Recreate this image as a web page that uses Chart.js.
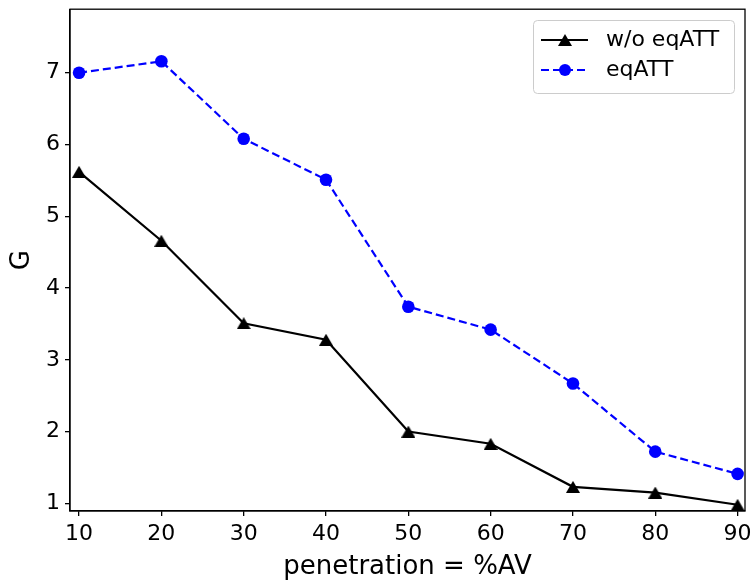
<!DOCTYPE html>
<html>
<head>
<meta charset="utf-8">
<script src="https://cdn.jsdelivr.net/npm/chart.js@4/dist/chart.umd.min.js"></script>
<style>
  html, body { margin: 0; padding: 0; background: #fff; }
  #wrap { width: 755px; height: 584px; }
</style>
</head>
<body>
<div id="wrap"><canvas id="grafico" width="755" height="584"></canvas></div>
<script>
// dados
const penetration = [10, 20, 30, 40, 50, 60, 70, 80, 90];
const woEqATT = [5.62, 4.66, 3.51, 3.28, 2.00, 1.83, 1.23, 1.15, 0.98];
const eqATT = [7.00, 7.16, 6.08, 5.51, 3.74, 3.42, 2.67, 1.72, 1.41];
const xTicks = [10, 20, 30, 40, 50, 60, 70, 80, 90];
const yTicks = [1, 2, 3, 4, 5, 6, 7];
const labels = ["w/o eqATT", "eqATT"];

const FONT = "'DejaVu Sans', sans-serif";

// triangulo no estilo do matplotlib (centro da caixa)
function triangulo(w, h, cor) {
  const c = document.createElement("canvas");
  c.width = w; c.height = h;
  const g = c.getContext("2d");
  g.fillStyle = cor;
  g.beginPath();
  g.moveTo(w / 2, 0);
  g.lineTo(w, h);
  g.lineTo(0, h);
  g.closePath();
  g.fill();
  return c;
}
const tri = triangulo(14, 12, "#000");

// moldura + legenda dentro do grafico
const extras = {
  id: "extras",
  afterDraw(chart) {
    const { ctx, chartArea: a } = chart;
    ctx.save();
    ctx.strokeStyle = "#000";
    ctx.lineWidth = 1.3;
    ctx.strokeRect(a.left, a.top, a.right - a.left, a.bottom - a.top);

    // caixa da legenda
    const bx = 533.5, by = 20.5, bw = 201, bh = 73;
    ctx.beginPath();
    ctx.roundRect(bx, by, bw, bh, 4);
    ctx.fillStyle = "rgba(255,255,255,0.8)";
    ctx.fill();
    ctx.strokeStyle = "#cccccc";
    ctx.lineWidth = 1;
    ctx.stroke();

    const rows = [40, 70];
    // linha preta
    ctx.strokeStyle = "#000";
    ctx.lineWidth = 2.2;
    ctx.setLineDash([]);
    ctx.beginPath();
    ctx.moveTo(541, rows[0]); ctx.lineTo(588, rows[0]);
    ctx.stroke();
    ctx.drawImage(tri, 565 - 7, rows[0] - 6);
    // linha azul tracejada
    ctx.strokeStyle = "#0000ff";
    ctx.setLineDash([8, 4]);
    ctx.beginPath();
    ctx.moveTo(541, rows[1]); ctx.lineTo(588, rows[1]);
    ctx.stroke();
    ctx.setLineDash([]);
    ctx.fillStyle = "#0000ff";
    ctx.beginPath();
    ctx.arc(565, rows[1], 6, 0, Math.PI * 2);
    ctx.fill();

    ctx.fillStyle = "#000";
    ctx.font = "22px " + FONT;
    ctx.textBaseline = "middle";
    ctx.textAlign = "left";
    ctx.fillText(labels[0], 606, rows[0]);
    ctx.fillText(labels[1], 606, rows[1]);
    ctx.restore();
  }
};

new Chart(document.getElementById("grafico").getContext("2d"), {
  type: "line",
  data: {
    datasets: [
      {
        label: labels[0],
        data: penetration.map((x, i) => ({ x, y: woEqATT[i] })),
        borderColor: "#000",
        backgroundColor: "#000",
        borderWidth: 2.2,
        pointStyle: tri,
        pointRadius: 7,
        pointHoverRadius: 7,
        clip: false
      },
      {
        label: labels[1],
        data: penetration.map((x, i) => ({ x, y: eqATT[i] })),
        borderColor: "#0000ff",
        backgroundColor: "#0000ff",
        borderWidth: 2.2,
        borderDash: [8, 4],
        pointStyle: "circle",
        pointRadius: 6.3,
        pointBorderWidth: 0,
        pointHoverRadius: 6.3,
        clip: false
      }
    ]
  },
  options: {
    responsive: false,
    animation: false,
    events: [],
    layout: { padding: { left: 0, right: 10, top: 8, bottom: 0 } },
    plugins: {
      legend: { display: false },
      tooltip: { enabled: false }
    },
    scales: {
      x: {
        type: "linear",
        min: 8.9,
        max: 90.9,
        afterBuildTicks: s => { s.ticks = xTicks.map(v => ({ value: v })); },
        afterFit: s => { s.height = 73; s.paddingLeft = 0; s.paddingRight = 0; },
        grid: { drawOnChartArea: false, drawTicks: true, tickLength: 5, color: "#000", lineWidth: 1.3 },
        border: { display: true, color: "#000", width: 1.3 },
        ticks: { color: "#000", padding: 5, font: { family: FONT, size: 22 }, maxRotation: 0, autoSkip: false },
        title: {
          display: true,
          text: "penetration = %AV",
          color: "#000",
          font: { family: FONT, size: 26 },
          padding: { top: 0, bottom: 1 }
        }
      },
      y: {
        type: "linear",
        min: 0.893,
        max: 7.886,
        afterBuildTicks: s => { s.ticks = yTicks.map(v => ({ value: v })); },
        afterFit: s => { s.width = 70; s.paddingTop = 0; s.paddingBottom = 0; },
        grid: { drawOnChartArea: false, drawTicks: true, tickLength: 5, color: "#000", lineWidth: 1.3 },
        border: { display: true, color: "#000", width: 1.3 },
        ticks: { color: "#000", padding: 5, font: { family: FONT, size: 22 }, autoSkip: false },
        title: {
          display: true,
          text: "G",
          color: "#000",
          font: { family: FONT, size: 26 },
          padding: { top: 7, bottom: 0 }
        }
      }
    }
  },
  plugins: [extras]
});
</script>
</body>
</html>
